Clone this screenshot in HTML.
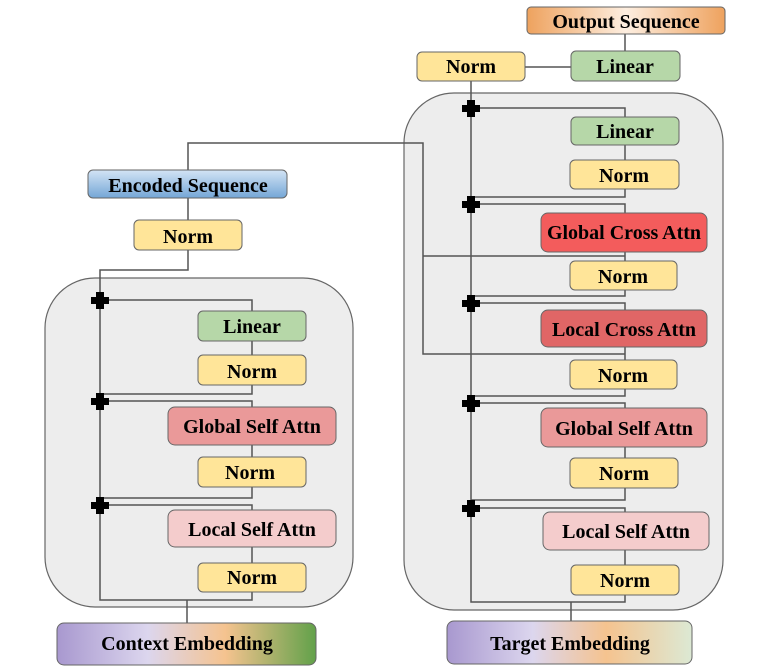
<!DOCTYPE html>
<html><head><meta charset="utf-8"><style>
html,body{margin:0;padding:0;background:#fff;width:768px;height:672px;overflow:hidden}
text{font-family:"Liberation Serif",serif;font-weight:bold;font-size:20px;fill:#000}
</style></head><body>
<svg width="768" height="672" viewBox="0 0 768 672" xmlns="http://www.w3.org/2000/svg">
<defs>
<linearGradient id="gOut" x1="0" x2="1"><stop offset="0" stop-color="#eea25e"/><stop offset="0.5" stop-color="#fdeee0"/><stop offset="1" stop-color="#eea25e"/></linearGradient>
<linearGradient id="gEnc" x1="0" y1="0" x2="0" y2="1"><stop offset="0" stop-color="#d3e4f5"/><stop offset="1" stop-color="#74a6d6"/></linearGradient>
<linearGradient id="gCtx" x1="0" x2="1"><stop offset="0" stop-color="#a898cf"/><stop offset="0.35" stop-color="#dcd6ee"/><stop offset="0.65" stop-color="#f5c38f"/><stop offset="1" stop-color="#62a14a"/></linearGradient>
<linearGradient id="gTgt" x1="0" x2="1"><stop offset="0" stop-color="#a898cf"/><stop offset="0.35" stop-color="#dcd6ee"/><stop offset="0.65" stop-color="#f5c38f"/><stop offset="1" stop-color="#dce9d4"/></linearGradient>
</defs>
<g stroke="#666" stroke-width="1.2" fill="#ededed">
<rect x="404" y="93" width="319" height="517" rx="50"/>
<rect x="45" y="278" width="308" height="329" rx="50"/>
</g>
<g stroke="#555" stroke-width="1.5" fill="none">
<path d="M625 34V51M525 67H571M471 81V602H625V595M571 602V621"/>
<path d="M471 108H625V117M625 145V160M625 189V197H471"/>
<path d="M471 204H625V213M625 252V261M625 290V296H471"/>
<path d="M471 303H625V310M625 347V360M625 389V396H471"/>
<path d="M471 403H625V408M625 447V458M625 488V500H471"/>
<path d="M471 508H625V512M625 550V565"/>
<path d="M188 170V143H423V354H625M423 256H625"/>
<path d="M188 198V220M188 250V270H100V600H252V592M187 600V623"/>
<path d="M100 300H252V311M252 341V355M252 385V394H100"/>
<path d="M100 401H252V407M252 445V457M252 487V498H100"/>
<path d="M100 505H252V510M252 547V563"/>
</g>
<g fill="#000" stroke="none">
<path d="M467 100h8v5h5v7h-5v5h-8v-5h-5v-7h5z"/>
<path d="M467 196h8v5h5v7h-5v5h-8v-5h-5v-7h5z"/>
<path d="M467 295h8v5h5v7h-5v5h-8v-5h-5v-7h5z"/>
<path d="M467 395h8v5h5v7h-5v5h-8v-5h-5v-7h5z"/>
<path d="M467 500h8v5h5v7h-5v5h-8v-5h-5v-7h5z"/>
<path d="M96 292h8v5h5v7h-5v5h-8v-5h-5v-7h5z"/>
<path d="M96 393h8v5h5v7h-5v5h-8v-5h-5v-7h5z"/>
<path d="M96 497h8v5h5v7h-5v5h-8v-5h-5v-7h5z"/>
</g>
<g stroke="#666" stroke-width="1">
<rect x="527" y="7" width="198" height="27" rx="4" fill="url(#gOut)"/>
<rect x="571" y="51" width="109" height="30" rx="5" fill="#b6d7a8"/>
<rect x="417" y="52" width="108" height="29" rx="5" fill="#ffe599"/>
<rect x="571" y="117" width="108" height="28" rx="5" fill="#b6d7a8"/>
<rect x="570" y="160" width="109" height="29" rx="5" fill="#ffe599"/>
<rect x="541" y="213" width="166" height="39" rx="7" fill="#f35c5c"/>
<rect x="570" y="261" width="107" height="29" rx="5" fill="#ffe599"/>
<rect x="541" y="310" width="166" height="37" rx="7" fill="#e06666"/>
<rect x="570" y="360" width="107" height="29" rx="5" fill="#ffe599"/>
<rect x="541" y="408" width="166" height="39" rx="7" fill="#ea9999"/>
<rect x="570" y="458" width="108" height="30" rx="5" fill="#ffe599"/>
<rect x="543" y="512" width="166" height="38" rx="7" fill="#f4cccc"/>
<rect x="571" y="565" width="108" height="30" rx="5" fill="#ffe599"/>
<rect x="447" y="621" width="245" height="43" rx="7" fill="url(#gTgt)"/>
<rect x="88" y="170" width="199" height="28" rx="5" fill="url(#gEnc)"/>
<rect x="134" y="220" width="108" height="30" rx="5" fill="#ffe599"/>
<rect x="198" y="311" width="108" height="30" rx="5" fill="#b6d7a8"/>
<rect x="198" y="355" width="108" height="30" rx="5" fill="#ffe599"/>
<rect x="168" y="407" width="168" height="38" rx="7" fill="#ea9999"/>
<rect x="198" y="457" width="108" height="30" rx="5" fill="#ffe599"/>
<rect x="168" y="510" width="168" height="37" rx="7" fill="#f4cccc"/>
<rect x="198" y="563" width="108" height="29" rx="5" fill="#ffe599"/>
<rect x="57" y="623" width="259" height="42" rx="7" fill="url(#gCtx)"/>
</g>
<g text-anchor="middle">
<text x="626" y="28">Output Sequence</text>
<text x="625" y="73">Linear</text>
<text x="471" y="73">Norm</text>
<text x="625" y="138">Linear</text>
<text x="624" y="182">Norm</text>
<text x="624" y="239">Global Cross Attn</text>
<text x="623" y="283">Norm</text>
<text x="624" y="336">Local Cross Attn</text>
<text x="623" y="382">Norm</text>
<text x="624" y="435">Global Self Attn</text>
<text x="624" y="480">Norm</text>
<text x="626" y="538">Local Self Attn</text>
<text x="625" y="587">Norm</text>
<text x="570" y="650">Target Embedding</text>
<text x="188" y="192">Encoded Sequence</text>
<text x="188" y="243">Norm</text>
<text x="252" y="333">Linear</text>
<text x="252" y="378">Norm</text>
<text x="252" y="433">Global Self Attn</text>
<text x="250" y="479">Norm</text>
<text x="252" y="536">Local Self Attn</text>
<text x="252" y="584">Norm</text>
<text x="187" y="650">Context Embedding</text>
</g>
</svg>
</body></html>
